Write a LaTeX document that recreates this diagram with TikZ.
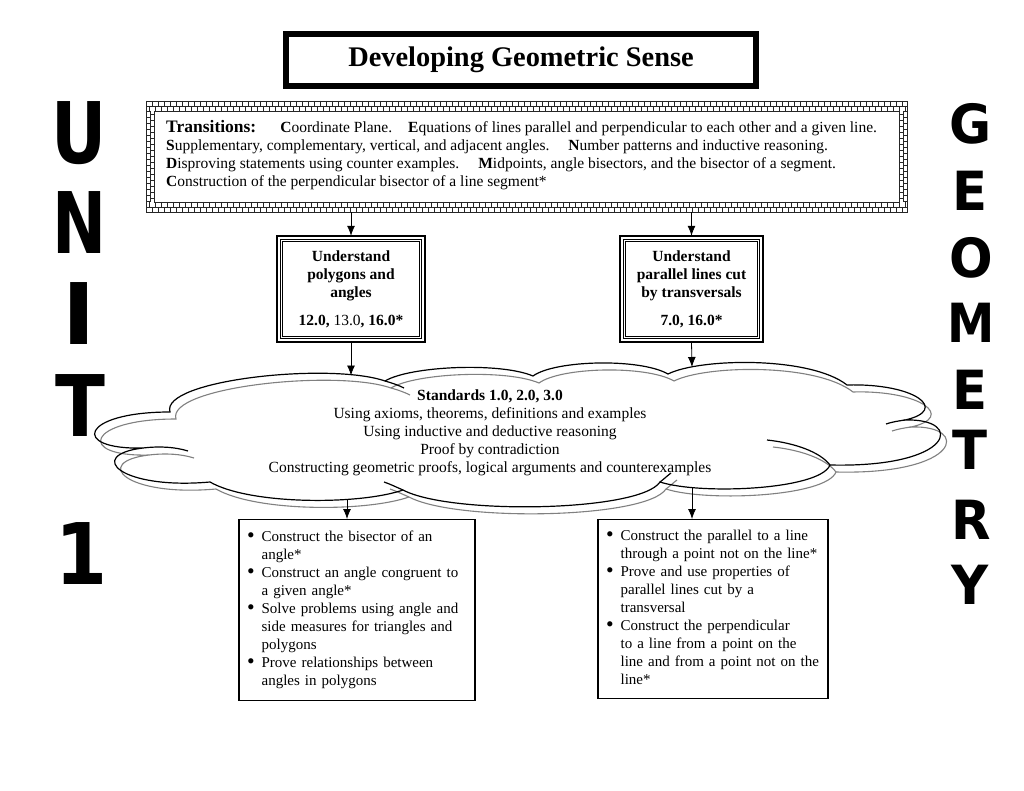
\documentclass[tikz,border=0pt]{standalone}
\usepackage{fontspec}
\setmainfont{Liberation Serif}
\newfontfamily\heavyfont{DejaVu Sans}
\usetikzlibrary{arrows.meta}
\newcommand\bigbul{\raisebox{-0.8pt}{\scalebox{1.45}{\textbullet}}}
\begin{document}
\begin{tikzpicture}[x=1pt,y=-1pt,
  txt/.style={font=\fontsize{15.5}{18}\selectfont},
  arr/.style={-{Latex[length=10pt,width=8pt]}, line width=0.8pt},
  stdbox/.style={minimum height=106pt, inner sep=0pt, align=center, font=\fontsize{15.5}{18}\selectfont\bfseries},
  listbox/.style={draw, line width=1.1pt, inner ysep=0pt, inner xsep=8pt, font=\fontsize{15}{18}\selectfont, anchor=north},
  brick/.style={line width=0.6pt, black!85},
  bigletter/.style={font=\heavyfont\bfseries\fontsize{85}{85}\selectfont, anchor=base, inner sep=0pt},
  geoletter/.style={font=\heavyfont\bfseries\fontsize{54}{54}\selectfont, anchor=base, inner sep=0pt},
  cloudline/.style={line width=1.2pt},
  cloudshadow/.style={line width=1.1pt, black!50, shift={(6,7)}}
]
\useasboundingbox[fill=white] (0,0) rectangle (1024,791);

% title
\node[draw, line width=6pt, minimum width=470pt, minimum height=52pt, inner sep=0pt,
      font=\fontsize{28.4}{30}\selectfont\bfseries] (title) at (521,60) {Developing Geometric Sense};

% transitions box with brick frame
\node[minimum width=761pt, minimum height=111pt, inner sep=0pt] (trans) at (526.5,156.5) {};
\draw[brick] (146,101) rectangle (907,212);
\draw[brick] (154,111) rectangle (899,202);
\draw[brick] (146,106) -- (907,106);
\draw[brick] (146,207) -- (907,207);
\draw[brick] (150,111) -- (150,202);
\draw[brick] (903,111) -- (903,202);
\foreach \x in {146,152,...,906} {\draw[brick] (\x,101) -- (\x,106); \draw[brick] (\x,207) -- (\x,212);}
\foreach \x in {149,155,...,906} {\draw[brick] (\x,106) -- (\x,111); \draw[brick] (\x,202) -- (\x,207);}
\foreach \y in {111,117,...,201} {\draw[brick] (146,\y) -- (150,\y); \draw[brick] (903,\y) -- (907,\y);}
\foreach \y in {114,120,...,201} {\draw[brick] (150,\y) -- (154,\y); \draw[brick] (899,\y) -- (903,\y);}

\node[txt, anchor=west, align=left, inner sep=0pt] (transtext) at (166,155.5) {%
{\fontsize{17.5}{18}\selectfont\bfseries Transitions:}\hspace{24pt}\textbf{C}oordinate Plane.\hspace{16pt}\textbf{E}quations of lines parallel and perpendicular to each other and a given line.\\
\textbf{S}upplementary, complementary, vertical, and adjacent angles.\hspace{19pt}\textbf{N}umber patterns and inductive reasoning.\\
\textbf{D}isproving statements using counter examples.\hspace{19pt}\textbf{M}idpoints, angle bisectors, and the bisector of a segment.\\
\textbf{C}onstruction of the perpendicular bisector of a line segment*};

% standard boxes
\node[stdbox, minimum width=148pt] (lb) at (351,289) {Understand\\polygons and\\angles\\[10pt]12.0, {\mdseries 13.0}, 16.0*};
\node[stdbox, minimum width=143pt] (rb) at (691.5,289) {Understand\\parallel lines cut\\by transversals\\[10pt]7.0, 16.0*};
\foreach \b in {lb,rb} {
  \draw[line width=2pt] (\b.north west) rectangle (\b.south east);
  \draw[line width=0.7pt] ([xshift=3.5pt,yshift=-3.5pt]\b.north west) rectangle ([xshift=-3.5pt,yshift=3.5pt]\b.south east);
  \draw[line width=0.7pt] ([xshift=5.5pt,yshift=-5.5pt]\b.north west) rectangle ([xshift=-5.5pt,yshift=5.5pt]\b.south east);
}

% cloud
\def\cloudpath{(170,412) .. controls (160,380) and (330,362) .. (385,381)
  .. controls (410,366) and (500,362) .. (533,376)
  .. controls (555,360) and (640,358) .. (668,374)
  .. controls (700,358) and (810,356) .. (847,385)
  .. controls (915,383) and (950,410) .. (905,420)
  .. controls (965,418) and (955,468) .. (830,465)
  .. controls (820,490) and (700,495) .. (660,482)
  .. controls (640,512) and (450,515) .. (403,490)
  .. controls (360,505) and (250,505) .. (210,482)
  .. controls (120,490) and (85,455) .. (143,448)
  .. controls (70,450) and (80,412) .. (170,412) -- cycle}
\def\cloudext{(385,381) .. controls (392,383) and (398,385) .. (404,388)
  (143,448) .. controls (160,446) and (175,447) .. (188,451)
  (905,420) .. controls (898,421) and (892,422) .. (886,424)
  (767,440) .. controls (795,443) and (820,452) .. (830,465)
  (660,482) .. controls (664,479) and (667,476) .. (671,473)
  (403,490) .. controls (396,487) and (390,484) .. (384,482)}
\fill[white] \cloudpath;
\draw[cloudshadow] \cloudpath;
\draw[cloudshadow] \cloudext;
\draw[cloudline] \cloudpath;
\draw[cloudline] \cloudext;

\node[txt, align=center, inner sep=0pt] (std) at (490,432.5) {\textbf{Standards 1.0, 2.0, 3.0}\\
Using axioms, theorems, definitions and examples\\
Using inductive and deductive reasoning\\
Proof by contradiction\\
Constructing geometric proofs, logical arguments and counterexamples};

\coordinate (ctl) at (351,375.5);
\coordinate (ctr) at (692,367);
\coordinate (cbl) at (347,499.5);
\coordinate (cbr) at (692,487.5);

% bottom boxes
\node[listbox, text width=220pt, minimum height=181pt] (bl) at (357,519) {%
\begin{tabular}{@{}l@{\hspace{7pt}}l@{}}
\bigbul & Construct the bisector of an\\
 & angle*\\
\bigbul & Construct an angle congruent to\\
 & a given angle*\\
\bigbul & Solve problems using angle and\\
 & side measures for triangles and\\
 & polygons\\
\bigbul & Prove relationships between\\
 & angles in polygons
\end{tabular}};
\node[listbox, text width=214pt, minimum height=179pt] (br) at (713,519) {%
\begin{tabular}{@{}l@{\hspace{7pt}}l@{}}
\bigbul & Construct the parallel to a line\\
 & through a point not on the line*\\
\bigbul & Prove and use properties of\\
 & parallel lines cut by a\\
 & transversal\\
\bigbul & Construct the perpendicular\\
 & to a line from a point on the\\
 & line and from a point not on the\\
 & line*
\end{tabular}};

% arrows
\draw[arr] (trans.south -| lb.north) -- (lb.north);
\draw[arr] (trans.south -| rb.north) -- (rb.north);
\draw[arr] (lb.south) -- (ctl);
\draw[arr] (rb.south) -- (ctr);
\draw[arr] (cbl) -- (cbl |- bl.north);
\draw[arr] (cbr) -- (cbr |- br.north);

% UNIT 1
\node[bigletter] (lu) at (79,164) {\scalebox{0.8}[1]{U}};
\node[bigletter] (ln) at (80,254) {\scalebox{0.76}[1]{N}};
\node[bigletter] (li) at (79,344) {\scalebox{1.05}[1]{I}};
\node[bigletter] (lt) at (80,436) {\scalebox{0.86}[1]{T}};
\node[bigletter] (l1) at (82,584) {\scalebox{0.88}[1]{1}};

% GEOMETRY
\node[geoletter] (g1) at (971,144) {\scalebox{0.95}[1]{G}};
\node[geoletter] (g2) at (970,211) {\scalebox{0.95}[1]{E}};
\node[geoletter] (g3) at (971,277) {\scalebox{0.95}[1]{O}};
\node[geoletter] (g4) at (971,342) {\scalebox{0.88}[1]{M}};
\node[geoletter] (g5) at (970,409) {\scalebox{0.95}[1]{E}};
\node[geoletter] (g6) at (970,469) {\scalebox{0.95}[1]{T}};
\node[geoletter] (g7) at (971,539) {\scalebox{0.95}[1]{R}};
\node[geoletter] (g8) at (970,604) {\scalebox{0.95}[1]{Y}};
\end{tikzpicture}
\end{document}
